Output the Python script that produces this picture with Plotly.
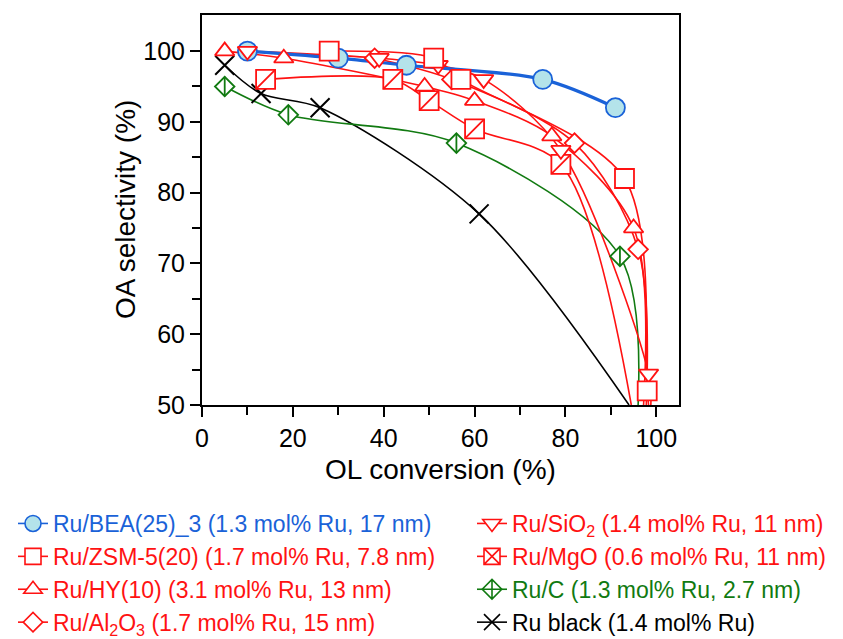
import plotly.graph_objects as go

# ---------------- data ----------------
bea_x = [10, 30, 45, 75, 91]
bea_y = [100, 99, 98, 96, 92]

zsm_x = [28, 51, 57, 93, 98]
zsm_y = [100, 99, 96, 82, 52]
zsm_exit_x = 98.3

hy_x = [5, 18, 49, 60, 77, 95]
hy_y = [100, 99, 95, 93, 88, 75]
hy_exit_x = 97.2

al_x = [38, 55, 82, 96]
al_y = [99, 96, 87, 72]
al_exit_x = 97.8

sio_x = [10, 39, 52, 62, 79, 98.3]
sio_y = [100, 99, 98, 96, 86, 54.4]
sio_exit_x = 98.8

mgo_x = [14, 42, 50, 60, 79]
mgo_y = [96, 96, 93, 89, 84]
mgo_exit_x = 94.5

c_x = [5, 19, 56, 92]
c_y = [95, 91, 87, 71]
c_exit_x = 96.0

blk_x = [5, 13, 26, 61]
blk_y = [98, 94, 92, 77]
blk_exit_x = 94.0

exit_y = 50

x_ticks = [0, 20, 40, 60, 80, 100]
x_minor = [10, 30, 50, 70, 90]
y_ticks = [50, 60, 70, 80, 90, 100]
y_minor = [55, 65, 75, 85, 95]

BLUE = "#1a62d8"
LBLUE = "#b4e3ea"
RED = "#ff1212"
GREEN = "#117a11"
BLACK = "#000000"

FONT = "Liberation Sans, Arial, Helvetica, sans-serif"

fig = go.Figure()


def curve(x, y, color, width=1.6, ex=None):
    xs = list(x) + ([ex] if ex is not None else [])
    ys = list(y) + ([exit_y] if ex is not None else [])
    fig.add_trace(go.Scatter(x=xs, y=ys, mode="lines",
                             line=dict(color=color, width=width, shape="spline", smoothing=0.9),
                             showlegend=False, hoverinfo="skip"))


def marks(x, y, symbol, color, size, fill="white", lw=1.8):
    fig.add_trace(go.Scatter(x=x, y=y, mode="markers",
                             marker=dict(symbol=symbol, size=size, color=fill,
                                         line=dict(color=color, width=lw)),
                             showlegend=False))


def legend_item(name, symbol, color, fill, legend, rank, size, lw=1.6):
    fig.add_trace(go.Scatter(x=[None], y=[None], mode="lines+markers",
                             name=f'<span style="color:{color}">{name}</span>',
                             line=dict(color=color, width=lw),
                             marker=dict(symbol=symbol, size=size, color=fill,
                                         line=dict(color=color, width=1.6)),
                             legend=legend, legendrank=rank))


# curves
curve(blk_x, blk_y, BLACK, ex=blk_exit_x)
curve(c_x, c_y, GREEN, ex=c_exit_x)
curve(mgo_x, mgo_y, RED, ex=mgo_exit_x)
curve(hy_x, hy_y, RED, ex=hy_exit_x)
curve(al_x, al_y, RED, ex=al_exit_x)
curve(sio_x, sio_y, RED, ex=sio_exit_x)
curve(zsm_x, zsm_y, RED, ex=zsm_exit_x)
curve(bea_x, bea_y, BLUE, width=3.2)

# markers
marks(blk_x, blk_y, "x-thin", BLACK, 19, fill=BLACK, lw=2)
marks(c_x, c_y, "diamond", GREEN, 15)
marks(c_x, c_y, "line-ns", GREEN, 15 * 1.3 / 1.4)
marks(bea_x, bea_y, "circle", BLUE, 19, fill=LBLUE)
marks(mgo_x, mgo_y, "square", RED, 19)
marks(mgo_x, mgo_y, "line-ne", RED, 19)
marks(hy_x, hy_y, "triangle-up", RED, 17)
marks(al_x, al_y, "diamond", RED, 15)
marks(sio_x, sio_y, "triangle-down", RED, 17)
marks(zsm_x, zsm_y, "square", RED, 19)

# legend entries (two columns)
legend_item("Ru/BEA(25)_3 (1.3 mol% Ru, 17 nm)", "circle", BLUE, LBLUE, "legend", 1, 17)
legend_item("Ru/ZSM-5(20) (1.7 mol% Ru, 7.8 nm)", "square", RED, "white", "legend", 2, 17)
legend_item("Ru/HY(10) (3.1 mol% Ru, 13 nm)", "triangle-up", RED, "white", "legend", 3, 17)
legend_item("Ru/Al<sub>2</sub>O<sub>3</sub> (1.7 mol% Ru, 15 nm)", "diamond", RED, "white", "legend", 4, 15)
legend_item("Ru/SiO<sub>2</sub> (1.4 mol% Ru, 11 nm)", "triangle-down", RED, "white", "legend2", 5, 17)
legend_item("Ru/MgO (0.6 mol% Ru, 11 nm)", "square-x", RED, "white", "legend2", 6, 17)
legend_item("Ru/C (1.3 mol% Ru, 2.7 nm)", "diamond-cross", GREEN, "white", "legend2", 7, 15)
legend_item("Ru black (1.4 mol% Ru)", "x-thin", BLACK, BLACK, "legend2", 8, 17)

axis_common = dict(
    showline=True, linewidth=2, linecolor="black", mirror=True,
    ticks="outside", ticklen=10, tickwidth=2, tickcolor="black",
    showgrid=False, zeroline=False,
    tickfont=dict(size=25, family=FONT, color="black"),
)

leg_common = dict(
    xref="container", yref="container", xanchor="left", yanchor="top",
    font=dict(size=23, family=FONT), bgcolor="rgba(0,0,0,0)",
    orientation="v", itemsizing="trace", tracegroupgap=0,
)

fig.update_layout(
    width=843, height=639,
    margin=dict(l=194, r=172, t=7, b=242, autoexpand=False),
    plot_bgcolor="white", paper_bgcolor="white",
    font=dict(family=FONT, color="black"),
    xaxis=dict(range=[0, 105], tickvals=x_ticks,
               minor=dict(tickvals=x_minor, ticks="outside", ticklen=8, tickwidth=2, tickcolor="black"),
               title=dict(text="OL conversion (%)", font=dict(size=28, family=FONT), standoff=8),
               **axis_common),
    yaxis=dict(range=[50, 105.1], tickvals=y_ticks,
               minor=dict(tickvals=y_minor, ticks="outside", ticklen=8, tickwidth=2, tickcolor="black"),
               **axis_common),
    legend=dict(x=5 / 843, y=1 - 494 / 639, **leg_common),
    legend2=dict(x=464 / 843, y=1 - 494 / 639, **leg_common),
    annotations=[dict(text="OA selectivity (%)", textangle=-90, xref="paper", yref="paper",
                      x=(117 - 194) / 477, y=0.5, xanchor="center", yanchor="middle",
                      showarrow=False, font=dict(size=28, family=FONT, color="black"))],
)

fig.write_html("out.html")
